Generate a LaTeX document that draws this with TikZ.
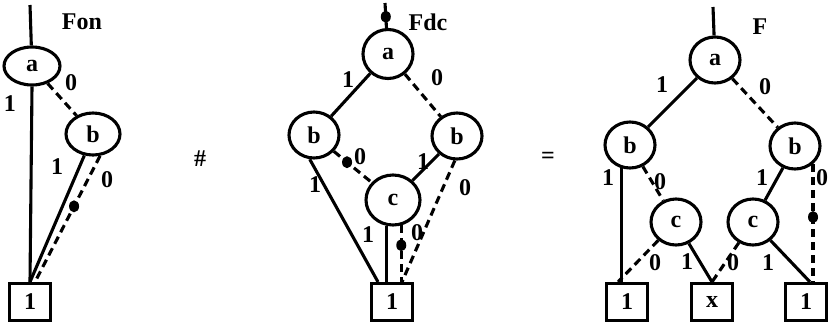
\documentclass[tikz,border=0pt]{standalone}
\usepackage{fontspec}
\setmainfont{Liberation Serif}
\usetikzlibrary{shapes.geometric}

\begin{document}
\begin{tikzpicture}[x=1pt,y=-1pt,line width=3.1pt,
    font=\fontsize{24}{26}\selectfont\bfseries]
  \tikzstyle{VertexStyle}=[draw,ellipse,minimum width=50pt,minimum height=46pt,inner sep=0pt]
  \tikzstyle{LeafStyle}=[draw,rectangle,minimum width=41pt,minimum height=37pt,inner sep=0pt]
  \tikzstyle{LabelStyle}=[inner sep=0pt]
  \tikzstyle{DotStyle}=[ellipse,fill,inner sep=0pt,minimum width=10pt,minimum height=12pt]
  \tikzstyle{ZeroEdge}=[dash pattern=on 8pt off 5pt]
  \useasboundingbox (0,0) rectangle (829,327);

  % Fon
  \node[VertexStyle,minimum width=56pt,minimum height=38pt] (a1) at (32,66) {a};
  \node[VertexStyle,minimum width=54pt,minimum height=42pt] (b1) at (93,134) {b};
  \node[LeafStyle] (t1) at (30,302) {1};
  \coordinate (r1) at (30,5);
  \node[LabelStyle] (n1) at (82,22) {Fon};
  \draw (r1) -- (a1);
  \draw (a1.south) -- (t1.north);
  \draw[ZeroEdge] (a1) -- (b1);
  \draw (b1.-112) -- (t1.north);
  \draw[ZeroEdge] (b1.-72) -- node[DotStyle,pos=.4] (d1) {} ([xshift=5pt]t1.north);
  \node[LabelStyle] (lab1) at (10,104) {1};
  \node[LabelStyle] (lab2) at (71,83) {0};
  \node[LabelStyle] (lab3) at (57,167) {1};
  \node[LabelStyle] (lab4) at (107,180) {0};

  \node[LabelStyle] (op1) at (200,159) {\#};

  % Fdc
  \node[VertexStyle,minimum height=49pt] (a2) at (388,54) {a};
  \node[VertexStyle] (b2) at (314,135) {b};
  \node[VertexStyle] (b3) at (457,136) {b};
  \node[VertexStyle,minimum width=54pt,minimum height=50pt] (c2) at (393,200) {c};
  \node[LeafStyle] (t2) at (392,302) {1};
  \coordinate (r2) at (385,3);
  \node[LabelStyle] (n2) at (428,22) {Fdc};
  \draw (r2) -- node[DotStyle,pos=.55] (d2) {} (a2);
  \draw (a2) -- (b2);
  \draw[ZeroEdge] (a2) -- (b3);
  \draw[ZeroEdge] (b2) -- node[DotStyle,pos=.35] (d3) {} (c2);
  \draw (b3) -- (c2);
  \draw (b2.-100) -- ([xshift=-14pt]t2.north);
  \draw (c2.-105) -- (c2.-105 |- t2.north);
  \draw[ZeroEdge] (c2.-72) -- node[DotStyle,pos=.35] (d4) {} (c2.-72 |- t2.north);
  \draw[ZeroEdge] (b3.-95) -- ([xshift=10pt]t2.north);
  \node[LabelStyle] (lab5) at (348,80) {1};
  \node[LabelStyle] (lab6) at (437,78) {0};
  \node[LabelStyle] (lab7) at (360,157) {0};
  \node[LabelStyle] (lab8) at (423,162) {1};
  \node[LabelStyle] (lab9) at (315,185) {1};
  \node[LabelStyle] (lab10) at (465,188) {0};
  \node[LabelStyle] (lab11) at (368,235) {1};
  \node[LabelStyle] (lab12) at (417,233) {0};

  \node[LabelStyle] (op2) at (548,158) {=};

  % F
  \node[VertexStyle] (a3) at (715,60) {a};
  \node[VertexStyle] (b4) at (630,145) {b};
  \node[VertexStyle] (b5) at (795,146) {b};
  \node[VertexStyle] (c3) at (676,222) {c};
  \node[VertexStyle] (c4) at (753,222) {c};
  \node[LeafStyle] (t3) at (627,302) {1};
  \node[LeafStyle] (t4) at (712,302) {x};
  \node[LeafStyle] (t5) at (806,302) {1};
  \coordinate (r3) at (713,7);
  \node[LabelStyle] (n3) at (760,27) {F};
  \draw (r3) -- (a3);
  \draw (a3) -- (b4);
  \draw[ZeroEdge] (a3) -- (b5);
  \draw (b4.-110) -- (b4.-110 |- t3.north);
  \draw[ZeroEdge] (b4) -- (c3);
  \draw (b5) -- (c4);
  \draw[ZeroEdge] (b5.-45) -- node[DotStyle,pos=.45] (d5) {} (b5.-45 |- t5.north);
  \draw[ZeroEdge] (c3) -- ([xshift=-9pt]t3.north);
  \draw (c3) -- (t4.north);
  \draw[ZeroEdge] (c4) -- (t4.north);
  \draw (c4) -- ([xshift=4pt]t5.north);
  \node[LabelStyle] (lab13) at (662,85) {1};
  \node[LabelStyle] (lab14) at (765,87) {0};
  \node[LabelStyle] (lab15) at (608,178) {1};
  \node[LabelStyle] (lab16) at (660,182) {0};
  \node[LabelStyle] (lab17) at (762,178) {1};
  \node[LabelStyle] (lab18) at (822,178) {0};
  \node[LabelStyle] (lab19) at (655,263) {0};
  \node[LabelStyle] (lab20) at (687,262) {1};
  \node[LabelStyle] (lab21) at (733,263) {0};
  \node[LabelStyle] (lab22) at (768,263) {1};
\end{tikzpicture}
\end{document}
